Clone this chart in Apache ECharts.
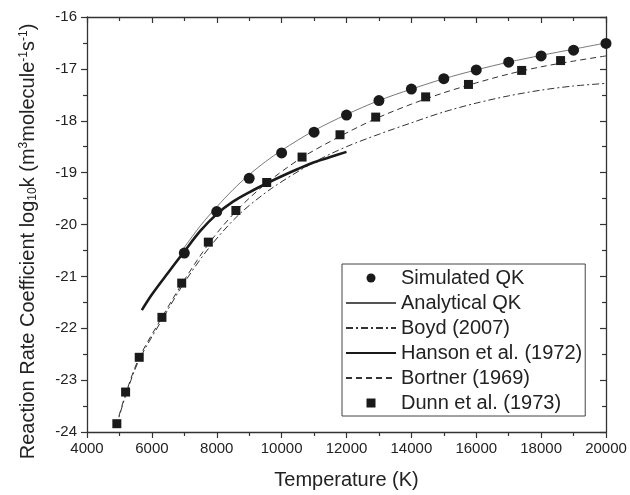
<!DOCTYPE html>
<html>
<head>
<meta charset="utf-8">
<script src="https://cdn.jsdelivr.net/npm/echarts@6/dist/echarts.min.js"></script>
<style>html,body{margin:0;padding:0;background:#fff}#c{width:630px;height:495px}</style>
</head>
<body>
<div id="c"></div>
<script>
// ---- data ----
const simT = [7000, 8000, 9000, 10000, 11000, 12000, 13000, 14000, 15000, 16000, 17000, 18000, 19000, 20000];
const simK = [-20.55, -19.75, -19.11, -18.62, -18.22, -17.89, -17.61, -17.39, -17.19, -17.02, -16.87, -16.75, -16.64, -16.51];

const anaT = [6900, 7000, 7500, 8000, 8500, 9000, 9500, 10000, 11000, 12000, 13000, 14000, 15000, 16000, 17000, 18000, 19000, 20000];
const anaK = [-20.52, -20.44, -20.02, -19.66, -19.33, -19.04, -18.79, -18.57, -18.19, -17.88, -17.61, -17.39, -17.19, -17.02, -16.87, -16.74, -16.62, -16.50];

const boydT = [4900, 5200, 5600, 6300, 7000, 7800, 8700, 9700, 11000, 12000, 13000, 14000, 15000, 16000, 17000, 18000, 19000, 20000];
const boydK = [-23.90, -23.28, -22.62, -21.85, -21.12, -20.42, -19.80, -19.30, -18.80, -18.50, -18.26, -18.04, -17.83, -17.66, -17.52, -17.41, -17.33, -17.28];

const hansonT = [5690, 6000, 6500, 7000, 7500, 8000, 8500, 9000, 9500, 10000, 10500, 11000, 11500, 12000];
const hansonK = [-21.65, -21.35, -20.93, -20.52, -20.12, -19.80, -19.56, -19.38, -19.22, -19.07, -18.93, -18.80, -18.70, -18.60];

const bortT = [4900, 5200, 5600, 6300, 7000, 7800, 8600, 9500, 10600, 11800, 12900, 14000, 15000, 16000, 17000, 18000, 19000, 20000];
const bortK = [-23.88, -23.25, -22.58, -21.80, -21.07, -20.33, -19.74, -19.22, -18.72, -18.30, -17.96, -17.68, -17.46, -17.27, -17.10, -16.96, -16.85, -16.75];

const dunnT = [4920, 5190, 5610, 6310, 6920, 7740, 8590, 9540, 10630, 11800, 12900, 14440, 15760, 17400, 18600];
const dunnK = [-23.84, -23.23, -22.56, -21.79, -21.13, -20.34, -19.73, -19.19, -18.70, -18.27, -17.93, -17.54, -17.30, -17.03, -16.84];

const seriesNames = ['Simulated QK', 'Analytical QK', 'Boyd (2007)', 'Hanson et al. (1972)', 'Bortner (1969)', 'Dunn et al. (1973)'];

// ---- chart ----
const zip = (a, b) => a.map((v, i) => [v, b[i]]);
const FONT = '"Liberation Sans", Arial, sans-serif';
const INK = '#222';
const MARK = '#1a1a1a';
const chart = echarts.init(document.getElementById('c'), null, {renderer: 'canvas'});

const axisCommon = {
  axisLine: {show: true, onZero: false, lineStyle: {color: '#333', width: 1.3}},
  splitLine: {show: false},
  minorSplitLine: {show: false}
};
const plain = v => String(v);
const hideSym = {opacity: 0};

chart.setOption({
  backgroundColor: '#fff',
  animation: false,
  grid: {left: 87, right: 24, top: 17, bottom: 63, containLabel: false},
  xAxis: [
    Object.assign({}, axisCommon, {
      type: 'value', min: 4000, max: 20000, interval: 2000, position: 'bottom',
      name: 'Temperature (K)', nameLocation: 'middle', nameGap: 38,
      nameTextStyle: {fontFamily: FONT, fontSize: 20, color: INK},
      axisTick: {show: true, inside: false, length: 6, lineStyle: {color: '#333', width: 1.2}},
      minorTick: {show: true, splitNumber: 2, length: 4, lineStyle: {color: '#333', width: 1.2}},
      axisLabel: {fontFamily: FONT, fontSize: 15, color: INK, margin: 9, formatter: plain}
    }),
    Object.assign({}, axisCommon, {
      type: 'value', min: 4000, max: 20000, interval: 2000, position: 'top',
      axisTick: {show: true, inside: true, length: 6, lineStyle: {color: '#333', width: 1.2}},
      minorTick: {show: true, splitNumber: 2, length: 4, lineStyle: {color: '#333', width: 1.2}},
      axisLabel: {show: false}
    })
  ],
  yAxis: [
    Object.assign({}, axisCommon, {
      type: 'value', min: -24, max: -16, interval: 1, position: 'left',
      name: 'Reaction Rate Coefficient log{sub|10}k (m{sup|3}molecule{sup|-1}s{sup|-1})',
      nameLocation: 'middle', nameGap: 48, nameRotate: 90,
      nameTextStyle: {
        fontFamily: FONT, fontSize: 20, color: INK, padding: [0, 34, 0, 0],
        rich: {
          sub: {fontFamily: FONT, fontSize: 12, color: INK, padding: [10, 0, 0, 0]},
          sup: {fontFamily: FONT, fontSize: 12, color: INK, padding: [0, 0, 9, 0]}
        }
      },
      axisTick: {show: true, inside: false, length: 6, lineStyle: {color: '#333', width: 1.2}},
      minorTick: {show: true, splitNumber: 2, length: 4, lineStyle: {color: '#333', width: 1.2}},
      axisLabel: {fontFamily: FONT, fontSize: 15, color: INK, margin: 10, formatter: plain}
    }),
    Object.assign({}, axisCommon, {
      type: 'value', min: -24, max: -16, interval: 1, position: 'right',
      axisTick: {show: true, inside: true, length: 6, lineStyle: {color: '#333', width: 1.2}},
      minorTick: {show: true, splitNumber: 2, length: 4, lineStyle: {color: '#333', width: 1.2}},
      axisLabel: {show: false}
    })
  ],
  legend: {
    orient: 'vertical', left: 342, top: 264,
    padding: [4, 3, 3, 3], itemGap: 5, itemWidth: 50, itemHeight: 9,
    borderColor: '#444', borderWidth: 1, backgroundColor: 'rgba(255,255,255,0)',
    textStyle: {fontFamily: FONT, fontSize: 20, color: INK},
    symbolKeepAspect: true,
    data: [
      {name: seriesNames[0], icon: 'circle', itemStyle: {color: MARK, opacity: 1}},
      {name: seriesNames[1], itemStyle: hideSym},
      {name: seriesNames[2], itemStyle: hideSym},
      {name: seriesNames[3], itemStyle: hideSym},
      {name: seriesNames[4], itemStyle: hideSym},
      {name: seriesNames[5], icon: 'path://M0,0L10,0L10,10L0,10Z', itemStyle: {color: MARK, opacity: 1}}
    ]
  },
  series: [
    {name: seriesNames[0], type: 'scatter', data: zip(simT, simK), symbol: 'circle', symbolSize: 11,
     itemStyle: {color: MARK, opacity: 1}, z: 5},
    {name: seriesNames[1], type: 'line', data: zip(anaT, anaK), symbol: 'none', smooth: 0.3,
     lineStyle: {color: '#555', width: 0.8, type: 'solid'}, itemStyle: {color: '#555'}},
    {name: seriesNames[2], type: 'line', data: zip(boydT, boydK), symbol: 'none', smooth: 0.3,
     lineStyle: {color: '#333', width: 1, type: [7, 3, 2, 3]}, itemStyle: {color: '#333'}},
    {name: seriesNames[3], type: 'line', data: zip(hansonT, hansonK), symbol: 'none', smooth: 0.3,
     lineStyle: {color: '#1a1a1a', width: 2.6, type: 'solid'}, itemStyle: {color: '#1a1a1a'}},
    {name: seriesNames[4], type: 'line', data: zip(bortT, bortK), symbol: 'none', smooth: 0.3,
     lineStyle: {color: '#333', width: 1, type: [6, 4]}, itemStyle: {color: '#333'}},
    {name: seriesNames[5], type: 'scatter', data: zip(dunnT, dunnK), symbol: 'rect', symbolSize: 9,
     itemStyle: {color: MARK, opacity: 1}, z: 5}
  ]
});
</script>
</body>
</html>
